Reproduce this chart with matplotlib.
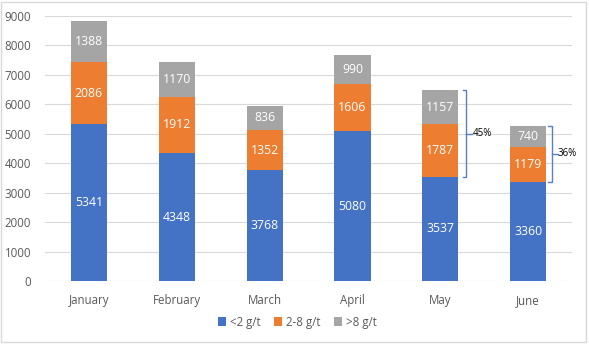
import numpy as np
import matplotlib.pyplot as plt
from matplotlib.patches import Rectangle

plt.rcParams['font.family'] = ['Open Sans', 'DejaVu Sans']

# ======================== Data ========================
months = ['January', 'February', 'March', 'April', 'May', 'June']
low = [5341, 4348, 3768, 5080, 3537, 3360]       # <2 g/t
mid = [2086, 1912, 1352, 1606, 1787, 1179]       # 2-8 g/t
high = [1388, 1170, 836, 990, 1157, 740]         # >8 g/t
series_names = ['<2 g/t', '2-8 g/t', '>8 g/t']
bracket_months = [4, 5]                          # May and June brackets

colors = ['#4472C4', '#ED7D31', '#A5A5A5']
text_col = '#595959'

fig = plt.figure(figsize=(5.89, 3.47), dpi=100)
ax = fig.add_axes([0.0764, 0.190, 0.895, 0.764])

x = np.arange(len(months))
w = 0.41
low = np.array(low)
mid = np.array(mid)
high = np.array(high)

b1 = ax.bar(x, low, w, color=colors[0], label=series_names[0], zorder=2)
b2 = ax.bar(x, mid, w, bottom=low, color=colors[1], label=series_names[1], zorder=2)
b3 = ax.bar(x, high, w, bottom=low + mid, color=colors[2], label=series_names[2], zorder=2)

# value labels in the middle of each segment
for vals, base in [(low, np.zeros_like(low)), (mid, low), (high, low + mid)]:
    for i, v in enumerate(vals):
        ax.text(x[i], base[i] + v / 2, str(v), ha='center', va='center',
                color='white', fontsize=8.8)

# brackets on the right of May and June
offs = {4: 0.295, 5: 0.265}
for i in bracket_months:
    y0 = low[i]
    y1 = low[i] + mid[i] + high[i]
    xb = x[i] + offs[i]
    ax.plot([xb - 0.04, xb, xb, xb - 0.04], [y1, y1, y0, y0],
            color='#5B7FC7', lw=1, zorder=3, clip_on=False)
    ym = (y0 + y1) / 2
    ax.plot([xb, xb + 0.07], [ym, ym], color='#5B7FC7', lw=1, zorder=3, clip_on=False)
    pct = round(100 * (mid[i] + high[i]) / y1)
    ax.text(xb + 0.07, ym, '%d%%' % pct, ha='left', va='center',
            fontsize=7, color='black')

ax.set_xlim(-0.5, len(months) - 0.5)
ax.set_ylim(0, 9000)
ax.set_yticks(np.arange(0, 9001, 1000))
ax.set_xticks(x)
ax.set_xticklabels(months)
ax.tick_params(axis='both', length=0, colors=text_col, labelsize=8.3)
ax.tick_params(axis='x', pad=9)
ax.tick_params(axis='y', pad=10)
ax.grid(axis='y', color='#D9D9D9', lw=0.8, zorder=0)
for s in ax.spines.values():
    s.set_visible(False)

leg = fig.legend(handles=[b1, b2, b3], loc='center', bbox_to_anchor=(0.505, 0.072),
                 ncol=3, frameon=False, fontsize=8.3, handlelength=0.7,
                 handleheight=0.7, handletextpad=0.3, columnspacing=1.2)
for t in leg.get_texts():
    t.set_color(text_col)

# chart border
fig.patches.append(Rectangle((0.002, 0.014), 0.993, 0.98, transform=fig.transFigure,
                             fill=False, edgecolor='#D9D9D9', lw=1))

fig.savefig('out.png', dpi=100)
